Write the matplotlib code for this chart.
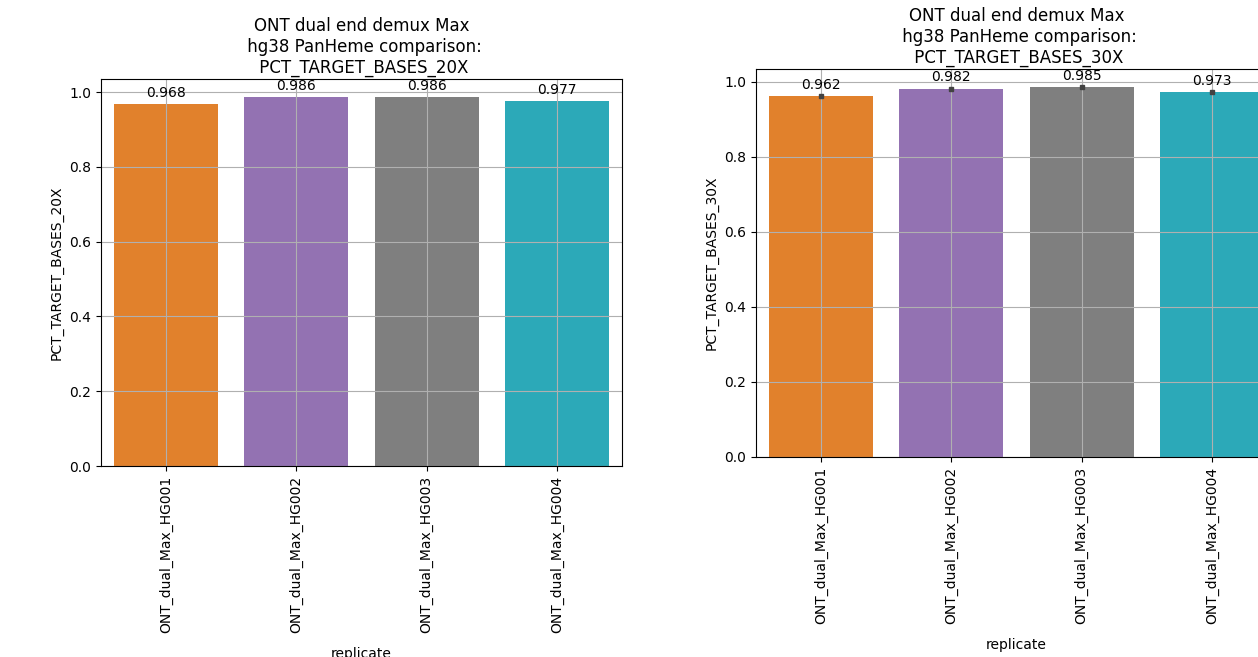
import numpy as np
import matplotlib.pyplot as plt

replicates = ['ONT_dual_Max_HG001', 'ONT_dual_Max_HG002', 'ONT_dual_Max_HG003', 'ONT_dual_Max_HG004']
pct_20x = [0.968, 0.986, 0.986, 0.977]
pct_30x = [0.962, 0.982, 0.985, 0.973]
bar_colors = ['#e1812c', '#9372b2', '#7f7f7f', '#2ca9b8']

W, H = 1258, 657
fig = plt.figure(figsize=(W / 100, H / 100), dpi=100)

def px_axes(left, top, right, bottom):
    return fig.add_axes([left / W, (H - bottom) / H, (right - left) / W, (bottom - top) / H])

ax1 = px_axes(101, 79, 622, 466)
ax2 = px_axes(756, 69, 1277, 457)

def draw(ax, values, metric, dots):
    x = np.arange(len(replicates))
    bars = ax.bar(x, values, width=0.8, color=bar_colors)
    if dots:
        ax.plot(x, values, linestyle='none', marker='s', ms=2.5, color='#424242', zorder=3)
    ax.bar_label(bars, fmt='%.3f', padding=3)
    ax.set_xlim(-0.5, len(replicates) - 0.5)
    ax.set_xticks(x)
    ax.set_xticklabels(replicates, rotation=90)
    ax.set_xlabel('replicate', labelpad=10)
    ax.set_ylabel(metric)
    ax.set_title('ONT dual end demux Max\n hg38 PanHeme comparison:\n ' + metric, pad=4.5)
    ax.grid(True)

draw(ax1, pct_20x, 'PCT_TARGET_BASES_20X', False)
draw(ax2, pct_30x, 'PCT_TARGET_BASES_30X', True)

fig.savefig('out.png', dpi=100)
